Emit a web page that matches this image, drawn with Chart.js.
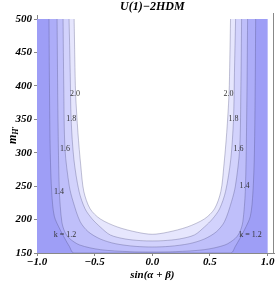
<!DOCTYPE html>
<html>
<head>
<meta charset="utf-8">
<script src="https://cdn.jsdelivr.net/npm/chart.js@4.4.1/dist/chart.umd.min.js"></script>
<style>
body { margin: 0; background: #fff; }
</style>
</head>
<body>
<canvas id="c" width="276" height="283"></canvas>
<script>
// axis ticks
var xTicks = [-1.0, -0.5, 0.0, 0.5, 1.0];
var yTicks = [150, 200, 250, 300, 350, 400, 450, 500];

// whole plotted region (k below 1.2 everywhere else)
var boxS = [-1, -1, 1, 1];
var boxM = [150, 500, 500, 150];

// contour lines, left top -> bottom -> right top
var k12S = [-0.896, -0.892, -0.885, -0.872, -0.85, -0.80, -0.76, -0.72, -0.68, 0.68, 0.72, 0.76, 0.80, 0.85, 0.872, 0.885, 0.892, 0.896];
var k12M = [500, 400, 300, 240, 205, 185, 172, 160, 150, 150, 160, 172, 185, 205, 240, 300, 400, 500];

var k14S = [-0.826, -0.818, -0.806, -0.785, -0.76, -0.72, -0.63, -0.45, -0.2, 0, 0.2, 0.45, 0.63, 0.72, 0.76, 0.785, 0.806, 0.818, 0.826];
var k14M = [500, 350, 242, 197, 182, 172, 162, 155, 152, 151.5, 152, 155, 162, 172, 182, 197, 242, 350, 500];

var k16S = [-0.774, -0.768, -0.757, -0.72, -0.687, -0.626, -0.557, -0.452, -0.322, -0.15, 0, 0.15, 0.322, 0.452, 0.557, 0.626, 0.687, 0.72, 0.757, 0.768, 0.774];
var k16M = [500, 400, 305, 250, 227, 197, 182, 171, 164, 160, 159, 160, 164, 171, 182, 197, 227, 250, 305, 400, 500];

var k18S = [-0.722, -0.712, -0.704, -0.68, -0.635, -0.583, -0.522, -0.452, -0.365, -0.235, -0.1, 0, 0.1, 0.235, 0.365, 0.452, 0.522, 0.583, 0.635, 0.68, 0.704, 0.712, 0.722];
var k18M = [500, 420, 350, 290, 242, 216, 201, 189, 177, 171, 168.5, 168, 168.5, 171, 177, 189, 201, 216, 242, 290, 350, 420, 500];

var k20S = [-0.678, -0.672, -0.665, -0.645, -0.62, -0.594, -0.539, -0.452, -0.304, -0.13, 0, 0.13, 0.304, 0.452, 0.539, 0.594, 0.62, 0.645, 0.665, 0.672, 0.678];
var k20M = [500, 440, 388, 330, 280, 242, 216, 201, 189, 181, 178, 181, 189, 201, 216, 242, 280, 330, 388, 440, 500];

// contour labels
var labelText = ['2.0', '1.8', '1.6', '1.4', 'k = 1.2', '2.0', '1.8', '1.6', '1.4', 'k = 1.2'];
var labelS = [-0.67, -0.704, -0.757, -0.809, -0.757, 0.661, 0.704, 0.748, 0.8, 0.852];
var labelM = [388, 350, 305, 242, 177, 388, 350, 305, 250, 177];

var serif = "'Liberation Serif', 'DejaVu Serif', serif";

// tick labels are bold italic serif, set it as the default font
Chart.defaults.font.family = serif;
Chart.defaults.font.size = 11;
Chart.defaults.font.style = 'italic';
Chart.defaults.font.weight = 'bold';
Chart.defaults.color = '#000';

function pts(s, m) {
    var out = [];
    for (var i = 0; i < s.length; i++) out.push({x: s[i], y: m[i]});
    return out;
}

function band(s, m, color) {
    return {
        data: pts(s, m),
        fill: 'shape',
        backgroundColor: color,
        borderColor: 'rgba(70,70,120,0.4)',
        borderWidth: 0.8,
        pointRadius: 0,
        tension: 0.3
    };
}

function fmt(v) {
    var t = Math.abs(v).toFixed(1);
    return v < 0 ? '\u2212' + t : t;
}

var frameText = {
    id: 'frameText',
    afterDatasetsDraw: function (chart) {
        var ctx = chart.ctx, xs = chart.scales.x, ys = chart.scales.y;
        ctx.save();
        ctx.fillStyle = '#333';
        ctx.font = '8px ' + serif;
        ctx.textAlign = 'center';
        ctx.textBaseline = 'middle';
        for (var i = 0; i < labelText.length; i++) {
            ctx.fillText(labelText[i], xs.getPixelForValue(labelS[i]), ys.getPixelForValue(labelM[i]));
        }
        ctx.restore();
    },
    afterDraw: function (chart) {
        var ctx = chart.ctx, a = chart.chartArea, xs = chart.scales.x;
        ctx.save();
        // right edge of the frame
        ctx.strokeStyle = '#888';
        ctx.lineWidth = 1;
        ctx.beginPath();
        ctx.moveTo(a.right - 0.5, a.top - 2);
        ctx.lineTo(a.right - 0.5, a.bottom);
        ctx.stroke();

        ctx.fillStyle = '#000';
        ctx.textAlign = 'center';
        ctx.textBaseline = 'middle';
        ctx.font = 'italic bold 12px ' + serif;
        ctx.fillText('U(1)\u22122HDM', xs.getPixelForValue(0), 7);
        ctx.font = 'italic bold 11px ' + serif;
        ctx.fillText('sin(\u03b1 + \u03b2)', xs.getPixelForValue(0), 275);

        // y title: m with subscript H'
        ctx.translate(13, 134);
        ctx.rotate(-Math.PI / 2);
        ctx.textAlign = 'left';
        ctx.font = 'italic bold 12px ' + serif;
        var mw = ctx.measureText('m').width;
        ctx.fillText('m', -10, 0);
        ctx.font = 'italic bold 8px ' + serif;
        ctx.fillText('H\u2032', -10 + mw, 3);
        ctx.restore();
    }
};

var tickFont = {family: serif, size: 11, style: 'italic', weight: 'bold'};

new Chart(document.getElementById('c'), {
    type: 'line',
    data: {
        datasets: [
            band(k20S, k20M, '#ffffff'),
            band(k18S, k18M, '#e6e6fd'),
            band(k16S, k16M, '#d2d2fc'),
            band(k14S, k14M, '#bfbffa'),
            band(k12S, k12M, '#adadf8'),
            {data: pts(boxS, boxM), fill: 'shape', backgroundColor: '#9e9ef6', borderWidth: 0, pointRadius: 0, tension: 0}
        ]
    },
    options: {
        responsive: false,
        animation: false,
        devicePixelRatio: 1,
        layout: {padding: {top: 15, right: 2, left: 0, bottom: 0}},
        plugins: {legend: {display: false}, tooltip: {enabled: false}},
        scales: {
            x: {
                type: 'linear',
                min: -1,
                max: 1.055,
                afterBuildTicks: function (s) { s.ticks = xTicks.map(function (v) { return {value: v}; }); },
                afterFit: function (s) { s.height = 30; s.paddingLeft = 0; s.paddingRight = 0; },
                ticks: {color: '#000', font: tickFont, padding: 0, maxRotation: 0, callback: fmt},
                grid: {drawOnChartArea: false, tickLength: 3, color: '#888'},
                border: {color: '#888'}
            },
            y: {
                type: 'linear',
                min: 150,
                max: 506,
                afterBuildTicks: function (s) { s.ticks = yTicks.map(function (v) { return {value: v}; }); },
                afterFit: function (s) { s.width = 37; s.paddingTop = 0; s.paddingBottom = 0; },
                ticks: {color: '#000', font: tickFont, padding: 2},
                grid: {drawOnChartArea: false, tickLength: 3, color: '#888'},
                border: {color: '#888'}
            }
        }
    },
    plugins: [frameText]
});
</script>
</body>
</html>
